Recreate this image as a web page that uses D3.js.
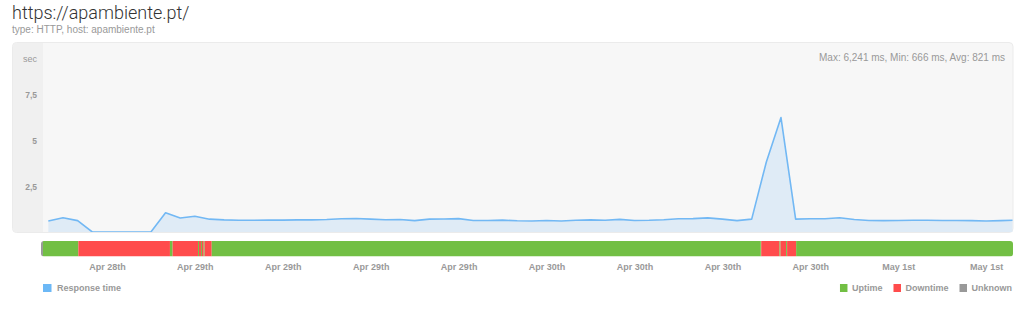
<!DOCTYPE html>
<html>
<head>
<meta charset="utf-8">
<script src="https://cdn.jsdelivr.net/npm/d3@7"></script>
<style>
  body { margin: 0; background: #fff; font-family: "Liberation Sans", Arial, sans-serif; }
  svg { display: block; }
  .muted { fill: #999; }
  .lbl { font-size: 9px; font-weight: bold; fill: #999; }
</style>
</head>
<body>
<svg class="chart"></svg>
<script>
// response time in seconds, one check per hour from Apr 28 14:00
var responseSec = [0.60, 0.78, 0.62, 0, 0, 0, 0, 0, 1.05, 0.76,
  0.86, 0.70, 0.66, 0.64, 0.64, 0.65, 0.65, 0.66, 0.66, 0.68,
  0.72, 0.74, 0.70, 0.67, 0.68, 0.62, 0.70, 0.71, 0.73, 0.63,
  0.63, 0.65, 0.61, 0.60, 0.63, 0.60, 0.64, 0.66, 0.64, 0.69,
  0.63, 0.64, 0.67, 0.72, 0.73, 0.77, 0.70, 0.62, 0.70, 3.82,
  6.241, 0.70, 0.72, 0.72, 0.78, 0.68, 0.63, 0.62, 0.63, 0.64,
  0.64, 0.63, 0.63, 0.62, 0.60, 0.62, 0.64];
var firstCheck = "2017-04-28 14:00";

// status changes: time the state begins
var statusTimes = ["2017-04-28 13:30", "2017-04-28 13:38", "2017-04-28 16:03",
  "2017-04-28 22:18", "2017-04-28 22:29", "2017-04-29 00:13", "2017-04-29 00:17",
  "2017-04-29 00:25", "2017-04-29 00:29", "2017-04-29 00:36", "2017-04-29 00:40",
  "2017-04-29 01:09", "2017-04-30 14:35", "2017-04-30 14:39", "2017-04-30 15:54",
  "2017-04-30 15:58", "2017-04-30 16:21", "2017-04-30 16:25", "2017-04-30 17:02"];
var statusCodes = ["unknown", "up", "down", "up", "down", "up", "down",
  "up", "down", "up", "down", "up", "up", "down", "up", "down", "up", "down", "up"];
var periodEnd = "2017-05-01 07:50";

var tickTimes = ["2017-04-28 18:00", "2017-04-29 00:00", "2017-04-29 06:00", "2017-04-29 12:00",
  "2017-04-29 18:00", "2017-04-30 00:00", "2017-04-30 06:00", "2017-04-30 12:00",
  "2017-04-30 18:00", "2017-05-01 00:00", "2017-05-01 06:00"];
var tickLabels = ["Apr 28th", "Apr 29th", "Apr 29th", "Apr 29th", "Apr 29th", "Apr 30th",
  "Apr 30th", "Apr 30th", "Apr 30th", "May 1st", "May 1st"];
var yTicks = [2.5, 5, 7.5];

var statusNames = ["Uptime", "Downtime", "Unknown"];
var statusKeys = ["up", "down", "unknown"];
var statusColors = { up: "#72bf44", down: "#ff4c4c", unknown: "#999999" };

var width = 1024, height = 315;
var parse = d3.timeParse("%Y-%m-%d %H:%M");
var comma = d3.formatLocale({ decimal: ",", thousands: ".", grouping: [3], currency: ["", ""] }).format("~g");

var svg = d3.select(".chart").attr("width", width).attr("height", height);

// header
svg.append("text").attr("x", 12).attr("y", 18.5)
   .style("font-size", "18px").style("font-family", "Roboto").style("font-weight", 300)
   .attr("fill", "#333").text("https://apambiente.pt/");
svg.append("text").attr("x", 12).attr("y", 32.5).attr("class", "muted")
   .style("font-size", "10px").text("type: HTTP, host: apambiente.pt");

// panel
var panel = { left: 12, top: 42, right: 1013.5, bottom: 233, gutter: 43 };
svg.append("rect").attr("x", panel.left + 0.5).attr("y", panel.top + 0.5)
   .attr("width", panel.right - panel.left - 1).attr("height", panel.bottom - panel.top - 1)
   .attr("rx", 4).attr("fill", "#f7f7f7").attr("stroke", "#ebebeb");
svg.append("path")
   .attr("d", "M" + (panel.gutter) + "," + (panel.top + 1) + "H" + (panel.left + 5) +
     "Q" + (panel.left + 1) + "," + (panel.top + 1) + " " + (panel.left + 1) + "," + (panel.top + 5) +
     "V" + (panel.bottom - 5) + "Q" + (panel.left + 1) + "," + (panel.bottom - 1) + " " + (panel.left + 5) + "," + (panel.bottom - 1) +
     "H" + panel.gutter + "Z")
   .attr("fill", "#f0f0f0");

var x = d3.scaleTime()
    .domain([parse(statusTimes[0]), parse(periodEnd)])
    .range([41, 1013]);
var y = d3.scaleLinear().domain([0, 10]).range([232, 48.6]);

svg.append("defs").append("clipPath").attr("id", "plotclip")
   .append("rect").attr("x", panel.gutter).attr("y", panel.top)
   .attr("width", panel.right - panel.gutter - 1).attr("height", panel.bottom - panel.top - 1);

var t0 = parse(firstCheck);
var points = responseSec.map(function(v, i) { return { t: d3.timeHour.offset(t0, i), v: v }; });

var plot = svg.append("g").attr("clip-path", "url(#plotclip)");
plot.append("path").datum(points)
    .attr("fill", "#dfebf6")
    .attr("d", d3.area().x(function(d) { return x(d.t); }).y0(y(0)).y1(function(d) { return y(d.v); }));
plot.append("path").datum(points)
    .attr("fill", "none").attr("stroke", "#72b8f4").attr("stroke-width", 1.6)
    .attr("stroke-linejoin", "round")
    .attr("d", d3.line().x(function(d) { return x(d.t); }).y(function(d) { return y(d.v); }));

// y axis labels
svg.append("text").attr("x", 37).attr("y", 58.5).attr("dy", "0.35em")
   .attr("text-anchor", "end").attr("class", "muted").style("font-size", "9px").text("sec");
svg.selectAll(".ytick").data(yTicks).enter().append("text")
   .attr("class", "lbl").attr("x", 37).attr("y", function(d) { return y(d) + 0.5; })
   .attr("dy", "0.35em").attr("text-anchor", "end").style("font-size", "8.5px")
   .text(function(d) { return comma(d); });

svg.append("text").attr("x", 1005).attr("y", 57.5).attr("dy", "0.35em")
   .attr("text-anchor", "end").attr("class", "muted").style("font-size", "10px")
   .text("Max: 6,241 ms, Min: 666 ms, Avg: 821 ms");

// status bar
var segs = statusTimes.map(function(s, i) {
  return { a: parse(s), b: parse(i + 1 < statusTimes.length ? statusTimes[i + 1] : periodEnd), k: statusCodes[i] };
});
svg.append("clipPath").attr("id", "barclip")
   .append("rect").attr("x", x.range()[0]).attr("y", 241)
   .attr("width", x.range()[1] - x.range()[0]).attr("height", 15.5).attr("rx", 3);
svg.append("g").attr("clip-path", "url(#barclip)")
   .selectAll("rect").data(segs).enter().append("rect")
   .attr("x", function(d) { return x(d.a); })
   .attr("width", function(d) { return x(d.b) - x(d.a); })
   .attr("y", 241).attr("height", 15.5)
   .attr("fill", function(d) { return statusColors[d.k]; });

// x axis labels
var xAxis = d3.axisBottom(x)
    .tickValues(tickTimes.map(parse))
    .tickSize(0).tickPadding(0)
    .tickFormat(function(d, i) { return tickLabels[i]; });
var gx = svg.append("g").attr("transform", "translate(0,264)").call(xAxis);
gx.select(".domain").remove();
gx.selectAll("text").attr("class", "lbl").attr("fill", null).style("font-family", "Liberation Sans");

// legends
var leg = svg.append("g").attr("transform", "translate(43,284)");
leg.append("rect").attr("width", 8.5).attr("height", 8).attr("fill", "#6cb8f6");
leg.append("text").attr("class", "lbl").attr("x", 14).attr("y", 4).attr("dy", "0.35em").text("Response time");

var rx = 1012;
for (var i = statusNames.length - 1; i >= 0; i--) {
  var g = svg.append("g");
  var t = g.append("text").attr("class", "lbl").attr("y", 288).attr("dy", "0.35em").text(statusNames[i]);
  var w = t.node().getComputedTextLength();
  t.attr("x", rx - w);
  g.append("rect").attr("x", rx - w - 12).attr("y", 284).attr("width", 7.5).attr("height", 8)
   .attr("fill", statusColors[statusKeys[i]]);
  rx = rx - w - 12 - 11;
}
</script>
</body>
</html>
